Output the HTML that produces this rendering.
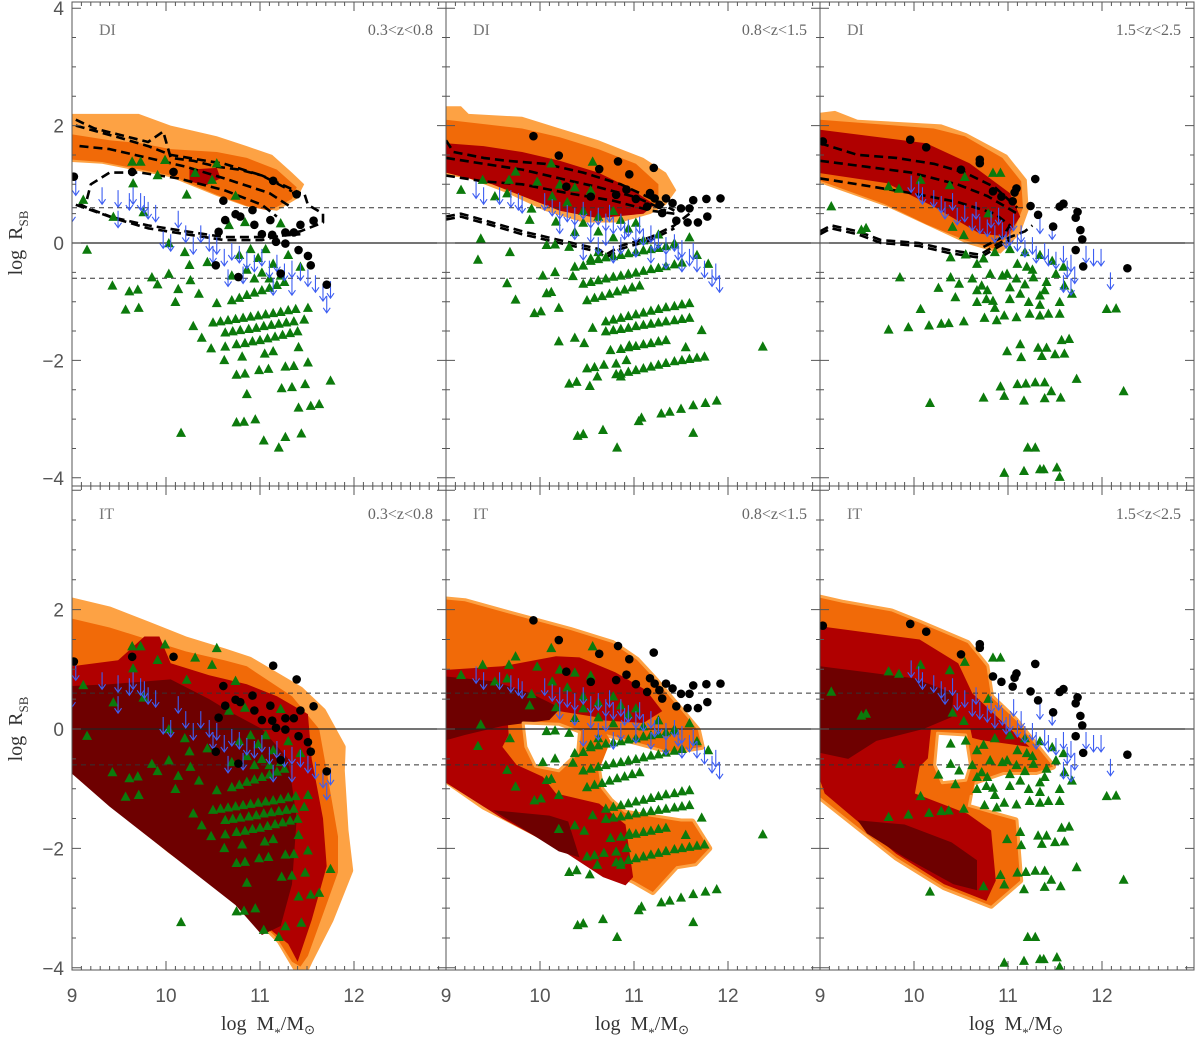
<!DOCTYPE html>
<html><head><meta charset="utf-8"><title>log R_SB vs stellar mass</title>
<style>
html,body{margin:0;padding:0;background:#fff;}
svg{display:block;font-family:"Liberation Serif",serif;}
</style></head>
<body>
<svg id="fig" width="1200" height="1040" viewBox="0 0 1200 1040" xmlns="http://www.w3.org/2000/svg">
<defs>
<clipPath id="c00"><rect x="72" y="2" width="374" height="484"/></clipPath>
<clipPath id="c01"><rect x="446" y="2" width="374" height="484"/></clipPath>
<clipPath id="c02"><rect x="820" y="2" width="374" height="484"/></clipPath>
<clipPath id="c10"><rect x="72" y="486" width="374" height="484"/></clipPath>
<clipPath id="c11"><rect x="446" y="486" width="374" height="484"/></clipPath>
<clipPath id="c12"><rect x="820" y="486" width="374" height="484"/></clipPath>
</defs>
</svg>
<script>
// ---------- shared scatter data per redshift column: [logM, logR] ----------
const triangles0 = [[9.64,1.39],[9.73,1.39],[9.99,1.42],[10.54,1.36],[10.31,1.20],[10.49,1.08],[9.91,1.16],[9.65,1.02],[10.22,0.83],[10.74,0.81],[9.12,0.74],[9.76,0.53],[9.44,0.45],[10.84,0.36],[11.22,0.34],[10.67,0.31],[9.16,-0.11],[10.03,0.0],[10.20,-0.15],[10.44,-0.32],[10.25,-0.37],[10.03,-0.52],[9.85,-0.58],[9.91,-0.70],[10.26,-0.63],[9.43,-0.72],[9.61,-0.82],[9.70,-0.79],[10.13,-0.78],[10.35,-0.86],[10.10,-1.0],[10.54,-1.02],[9.57,-1.13],[9.71,-1.10],[10.29,-1.41],[10.38,-1.61],[10.48,-1.79],[10.63,-1.76],[10.62,-1.99],[10.81,-1.93],[11.05,-1.88],[11.14,-1.84],[11.41,-1.77],[11.51,-2.03],[10.75,-2.24],[10.84,-2.22],[10.99,-2.16],[11.09,-2.14],[11.27,-2.10],[11.36,-2.09],[11.75,-2.34],[10.86,-2.57],[11.23,-2.47],[11.34,-2.45],[11.48,-2.40],[11.41,-2.80],[11.54,-2.77],[11.63,-2.74],[10.75,-3.05],[10.83,-3.04],[10.95,-3.0],[10.16,-3.23],[11.04,-3.36],[11.27,-3.30],[11.44,-3.24],[11.20,-3.48],
[10.50,-1.35],[10.58,-1.33],[10.66,-1.31],[10.74,-1.29],[10.82,-1.27],[10.90,-1.25],[10.98,-1.23],[11.06,-1.21],[11.14,-1.19],[11.22,-1.17],[11.30,-1.14],[11.38,-1.12],[11.51,-1.10],
[10.63,-1.52],[10.71,-1.50],[10.79,-1.48],[10.88,-1.46],[10.96,-1.44],[11.04,-1.41],[11.12,-1.39],[11.20,-1.37],[11.28,-1.35],[11.36,-1.33],[11.47,-1.30],
[10.75,-1.72],[10.84,-1.70],[10.92,-1.67],[11.00,-1.65],[11.08,-1.62],[11.16,-1.59],[11.24,-1.56],[11.32,-1.53],[11.40,-1.50],
[10.70,-0.97],[10.78,-0.93],[10.86,-0.88],[10.94,-0.84],[11.02,-0.80],[11.10,-0.76],[11.18,-0.71],[11.26,-0.66],
[10.78,-0.2],[10.90,-0.1],[10.98,-0.25],[11.06,-0.1],[10.86,-0.45],[11.02,-0.5],[11.14,-0.35],[11.22,-0.55],[11.30,-0.2],[11.43,-0.4],[10.70,-0.55],[10.94,-0.6],[11.10,-0.6]];
const circles0 = [[9.02,1.13],[9.64,1.21],[10.08,1.21],[11.14,1.06],[11.39,0.83],[10.61,0.72],[10.92,0.56],[10.74,0.49],[10.79,0.45],[11.11,0.39],[10.63,0.39],[10.94,0.31],[11.43,0.31],[11.57,0.38],[10.56,0.19],[11.02,0.15],[11.13,0.14],[11.27,0.18],[11.36,0.18],[11.17,0.02],[11.27,-0.01],[11.41,-0.12],[11.51,-0.22],[11.54,-0.38],[10.53,-0.38],[11.22,-0.52],[10.77,-0.58],[11.71,-0.71]];
const arrows0 = [[9.04,1.1],[9.32,0.95],[9.49,0.9],[9.61,0.85],[9.65,0.95],[9.73,0.85],[9.77,0.8],[9.81,0.7],[9.89,0.65],[9.49,0.55],[10.13,0.55],[10.21,0.3],[10.05,0.15],[10.29,0.1],[10.37,0.3],[10.46,0.15],[10.50,-0.05],[10.54,0.1],[10.62,-0.1],[10.70,0.0],[10.78,-0.05],[10.86,-0.15],[10.94,-0.2],[11.02,-0.1],[11.10,-0.3],[11.18,-0.2],[11.26,-0.35],[11.34,-0.3],[11.43,-0.35],[11.51,-0.45],[11.59,-0.55],[11.67,-0.7],[11.75,-0.65],[11.71,-0.9],[11.14,-0.6],[11.34,-0.6],[9.0,0.65],[9.97,0.2],[10.66,-0.45],[10.82,-0.4]];

const triangles1 = [[9.16,0.91],[9.39,1.08],[9.52,0.80],[9.65,0.85],[9.67,1.08],[9.74,1.22],[9.91,0.59],[9.89,0.40],[9.37,0.08],[9.34,-0.28],[9.68,-0.15],[10.12,1.36],[10.56,1.39],[10.17,0.37],[10.37,0.19],[10.07,-0.03],[10.16,-0.02],[10.31,-0.06],[10.54,-0.26],[10.62,-0.15],[10.37,-0.40],[10.46,-0.38],[10.03,-0.55],[10.16,-0.49],[10.35,-0.56],[9.65,-0.68],[9.74,-0.96],[10.07,-0.85],[10.12,-0.83],[10.20,-1.1],[9.94,-1.19],[10.01,-1.16],[10.56,-1.44],[10.20,-1.67],[10.37,-1.61],[10.47,-1.70],[10.75,-1.82],[10.95,-1.74],[11.55,-1.77],[11.72,-1.48],[12.37,-1.76],[10.50,-2.13],[10.58,-2.11],[10.68,-2.07],[10.81,-2.05],[10.92,-1.99],[10.31,-2.39],[10.39,-2.36],[10.53,-2.43],[10.61,-2.27],[10.81,-2.23],[10.86,-2.27],[11.05,-3.03],[11.08,-2.97],[11.29,-2.9],[11.38,-2.87],[11.50,-2.82],[11.63,-2.76],[11.76,-2.72],[11.88,-2.68],[10.40,-3.28],[10.46,-3.25],[10.67,-3.18],[11.63,-3.23],[10.82,-3.48],
[10.54,-0.30],[10.62,-0.27],[10.70,-0.24],[10.78,-0.22],[10.86,-0.2],[10.94,-0.17],[11.02,-0.15],[11.10,-0.12],[11.18,-0.1],[11.26,-0.08],[11.34,-0.05],[11.43,-0.02],
[10.46,-0.69],[10.54,-0.66],[10.62,-0.63],[10.70,-0.6],[10.78,-0.57],[10.86,-0.55],[10.94,-0.52],[11.02,-0.5],[11.10,-0.47],[11.18,-0.44],[11.26,-0.42],[11.34,-0.39],[11.43,-0.36],[11.51,-0.33],
[10.50,-0.97],[10.58,-0.93],[10.66,-0.9],[10.74,-0.86],[10.82,-0.82],[10.90,-0.79],[10.98,-0.75],[11.06,-0.72],
[10.70,-1.33],[10.78,-1.30],[10.86,-1.27],[10.94,-1.24],[11.02,-1.21],[11.10,-1.18],[11.18,-1.15],[11.26,-1.12],[11.34,-1.09],[11.43,-1.07],[11.51,-1.04],[11.59,-1.02],
[10.70,-1.5],[10.78,-1.48],[10.86,-1.46],[10.94,-1.44],[11.02,-1.41],[11.10,-1.39],[11.18,-1.37],[11.26,-1.35],[11.34,-1.33],[11.43,-1.31],[11.51,-1.29],[11.59,-1.27],
[10.86,-1.8],[10.94,-1.77],[11.02,-1.75],[11.10,-1.72],[11.18,-1.70],[11.26,-1.67],[11.34,-1.65],
[10.86,-2.22],[10.94,-2.19],[11.02,-2.16],[11.10,-2.13],[11.18,-2.1],[11.26,-2.07],[11.34,-2.04],[11.43,-2.01],[11.51,-1.99],[11.59,-1.97],[11.67,-1.95],[11.75,-1.93],
[10.62,0.2],[10.78,0.1],[10.94,0.25],[11.10,0.05],[11.26,0.15],[11.43,0.0],[11.59,0.1],[10.46,0.35],[11.02,0.35],[11.67,-0.2],[11.79,-0.35],
[10.13,0.8],[10.29,0.7],[10.46,0.55],[10.54,0.9],[10.62,0.45],[10.78,0.55],[10.86,0.4],[10.37,0.95],[10.21,1.0],[9.97,1.05]];
const circles1 = [[9.93,1.82],[10.20,1.49],[10.83,1.39],[11.21,1.28],[10.63,1.26],[10.95,1.17],[10.92,0.91],[11.02,0.75],[11.17,0.85],[11.22,0.76],[11.14,0.62],[11.27,0.65],[11.34,0.76],[11.41,0.68],[11.50,0.59],[11.63,0.73],[11.77,0.75],[11.92,0.76],[11.59,0.59],[11.78,0.45],[11.68,0.35],[11.57,0.35],[11.45,0.38],[10.54,0.79],[10.28,0.96],[10.81,0.82],[11.30,0.51]];
const arrows1 = [[9.32,1.05],[9.40,0.95],[9.57,0.95],[9.69,0.9],[9.77,0.85],[9.81,0.8],[10.05,0.85],[10.13,0.75],[10.21,0.7],[10.29,0.65],[10.37,0.6],[10.46,0.7],[10.54,0.55],[10.62,0.6],[10.70,0.5],[10.74,0.65],[10.78,0.45],[10.86,0.5],[10.90,0.35],[10.94,0.4],[11.02,0.3],[11.06,0.45],[11.10,0.25],[11.18,0.3],[11.22,0.15],[11.26,0.2],[11.34,0.1],[11.43,0.15],[11.47,0.0],[11.51,0.05],[11.59,-0.1],[11.63,0.0],[11.67,-0.2],[11.75,-0.3],[11.83,-0.45],[11.91,-0.55],[11.87,-0.35],[10.21,0.45],[10.37,0.35],[10.54,0.3],[10.70,0.25],[10.86,0.1],[11.02,0.05],[11.18,-0.05],[11.34,-0.15],[11.51,-0.2],[10.62,0.1],[10.46,0.0],[10.78,-0.05]];

const triangles2 = [[9.12,0.63],[9.44,0.23],[9.49,0.26],[9.73,0.97],[9.84,0.93],[10.07,1.08],[10.38,0.99],[10.54,1.13],[10.84,1.20],[10.92,1.20],[10.41,0.28],[10.53,0.14],[10.79,0.51],[9.85,-0.58],[10.26,-0.76],[10.39,-0.58],[10.48,-0.69],[10.07,-1.12],[9.73,-1.47],[9.94,-1.43],[10.16,-1.40],[10.29,-1.37],[10.37,-1.36],[10.53,-1.33],[10.39,-0.24],[10.55,-0.19],[10.67,-0.35],[10.74,-0.26],[10.81,-0.52],[10.72,-0.72],[10.67,-1.0],[10.75,-1.27],[10.88,-1.31],[10.96,-1.23],[11.09,-1.26],[11.23,-1.2],[11.34,-1.23],[11.43,-1.2],[11.55,-1.2],[10.99,-0.52],[11.09,-0.60],[11.20,-0.40],[11.27,-0.58],[11.41,-0.66],[11.51,-0.52],[11.60,-0.72],[11.68,-0.86],[11.55,-1.0],[11.13,-0.86],[11.34,-0.89],[10.84,-0.98],[10.77,-0.95],[10.44,-0.92],[10.67,-0.80],[10.99,-1.84],[11.13,-1.72],[11.14,-1.94],[11.32,-1.78],[11.36,-1.92],[11.41,-1.78],[11.50,-1.89],[11.57,-1.65],[11.65,-1.63],[11.60,-1.88],[12.05,-1.12],[12.15,-1.11],[11.73,-2.31],[12.23,-2.52],[10.92,-2.44],[10.96,-2.60],[10.74,-2.63],[11.10,-2.40],[11.19,-2.39],[11.29,-2.37],[11.39,-2.37],[11.17,-2.68],[11.39,-2.64],[11.46,-2.52],[11.56,-2.63],[10.17,-2.72],[11.21,-3.48],[11.29,-3.48],[10.96,-3.91],[11.17,-3.88],[11.34,-3.85],[11.38,-3.85],[11.52,-3.82],[11.55,-3.98],
[11.02,-0.1],[11.18,-0.15],[11.34,-0.2],[11.47,-0.3],[11.10,-0.35],[10.86,-0.15],[11.26,-0.45],[11.59,-0.4],[10.94,-0.55],[10.62,-0.6],[10.78,-0.8],[11.02,-0.75],[11.18,-0.7],[11.39,-0.8],[10.86,-1.1],[11.02,-0.95],[11.22,-1.0],[11.34,-1.05]];
const circles2 = [[9.03,1.73],[9.96,1.76],[10.13,1.63],[10.70,1.42],[10.70,1.36],[10.50,1.25],[11.29,1.09],[11.09,0.93],[11.07,0.86],[10.84,0.88],[10.93,0.79],[11.05,0.71],[11.24,0.63],[11.55,0.62],[11.59,0.67],[11.74,0.53],[11.72,0.43],[11.32,0.48],[11.77,0.22],[11.79,0.06],[11.72,-0.12],[11.80,-0.40],[12.27,-0.43],[11.48,0.28]];
const arrows2 = [[9.97,1.15],[10.05,1.05],[10.09,0.95],[10.21,0.9],[10.29,0.8],[10.33,0.7],[10.41,0.85],[10.46,0.6],[10.54,0.65],[10.62,0.5],[10.66,0.7],[10.70,0.45],[10.78,0.4],[10.82,0.55],[10.86,0.3],[10.94,0.35],[10.98,0.2],[11.02,0.25],[11.10,0.15],[11.14,0.3],[11.18,0.05],[11.26,0.1],[11.30,-0.05],[11.39,0.0],[11.43,-0.1],[11.51,-0.15],[11.59,-0.05],[11.63,-0.3],[11.67,-0.2],[11.71,-0.4],[11.83,-0.05],[11.91,-0.1],[11.99,-0.1],[11.59,-0.55],[11.67,-0.6],[12.09,-0.5],[11.34,0.45],[11.47,0.35],[11.06,0.5],[10.90,0.6]];

// ---------- model density contours: [logM, logR] polygons ----------
const di0Light = [[9,2.2],[9.36,2.2],[9.71,2.2],[10.05,2.0],[10.54,1.82],[10.86,1.65],[11.13,1.5],[11.34,1.2],[11.47,1.0],[11.39,0.75],[11.18,0.55],[10.86,0.62],[10.54,0.8],[10.05,1.12],[9.73,1.22],[9.32,1.35],[9,1.38]];
const di0Orange = [[9,1.85],[9.40,1.75],[9.73,1.7],[10.05,1.6],[10.54,1.55],[10.86,1.45],[11.18,1.25],[11.39,0.95],[11.34,0.75],[11.10,0.55],[10.86,0.63],[10.54,0.82],[10.05,1.15],[9.73,1.25],[9.32,1.38],[9,1.42]];
const di0Red = [[10.25,1.25],[10.54,1.28],[10.58,1.1],[10.42,0.98],[10.25,1.05]];
const di0Lines = [
 [[9.04,2.1],[9.24,1.95],[9.49,1.85],[9.81,1.72],[9.97,1.9],[10.05,1.45],[10.29,1.4],[10.54,1.3],[10.78,1.25],[11.02,1.15],[11.39,0.88]],
 [[9.04,2.0],[9.49,1.8],[9.81,1.65],[10.05,1.5],[10.62,1.35],[11.02,1.15],[11.34,0.88]],
 [[9.08,1.65],[9.40,1.6],[9.81,1.45],[10.21,1.3],[10.62,1.1],[11.10,0.85],[11.34,0.6]],
 [[11.34,0.85],[11.47,0.85],[11.51,0.65],[11.67,0.5],[11.67,0.35],[11.43,0.2],[11.02,0.05],[10.62,0.05],[10.21,0.15],[9.81,0.25],[9.49,0.4],[9.16,0.6],[9.04,0.7]],
 [[9.16,0.75],[9.20,1.0],[9.40,1.2],[9.73,1.2],[10.13,1.1],[10.62,0.9],[11.02,0.65],[11.18,0.45]],
 [[9.04,0.65],[9.40,0.45],[9.81,0.3],[10.21,0.2],[10.62,0.1],[11.02,0.1],[11.43,0.15]]];
const di1Light = [[9,2.33],[9.16,2.33],[9.24,2.2],[9.81,2.15],[10.21,1.95],[10.62,1.75],[10.86,1.6],[11.10,1.45],[11.34,1.2],[11.45,0.9],[11.34,0.65],[11.18,0.5],[10.86,0.35],[10.46,0.35],[10.05,0.55],[9.65,0.85],[9.24,1.1],[9,1.15]];
const di1Orange = [[9,2.1],[9.81,1.95],[10.21,1.8],[10.62,1.6],[11.02,1.35],[11.26,1.0],[11.26,0.7],[11.10,0.55],[10.78,0.45],[10.37,0.5],[9.97,0.7],[9.49,1.0],[9,1.2]];
const di1Red = [[9,1.7],[9.40,1.65],[9.81,1.55],[10.21,1.4],[10.62,1.2],[10.94,0.95],[11.22,0.65],[11.10,0.5],[10.62,0.42],[10.21,0.55],[9.97,0.7],[9.49,1.0],[9,1.2]];
const di1Lines = [
 [[9,1.75],[9.08,1.55],[9.40,1.45],[9.65,1.4],[10.05,1.35],[10.46,1.2],[10.86,1.0],[11.26,0.7],[11.43,0.55]],
 [[9,1.45],[9.40,1.35],[9.81,1.25],[10.21,1.1],[10.62,0.95],[11.02,0.78],[11.34,0.55]],
 [[9,1.15],[9.40,1.05],[9.81,1.0],[10.29,0.85],[10.78,0.72],[11.18,0.55],[11.43,0.5]],
 [[9,0.45],[9.16,0.5],[9.49,0.35],[9.81,0.2],[10.21,0.05],[10.62,-0.1],[10.70,-0.2],[10.86,-0.05],[11.18,0.1],[11.43,0.3],[11.59,0.5]],
 [[9,0.4],[9.16,0.45],[9.49,0.3],[9.81,0.15],[10.21,0.0],[10.62,-0.15],[10.70,-0.25],[10.86,-0.1],[11.18,0.05],[11.43,0.25]]];
const di2Light = [[9,2.22],[9.16,2.25],[9.40,2.1],[10.29,2.02],[10.56,1.87],[10.99,1.5],[11.20,1.08],[11.22,0.56],[11.13,0.16],[10.92,-0.18],[10.56,-0.01],[10.17,0.28],[9.71,0.62],[9,1.02]];
const di2Orange = [[9,2.1],[10.21,1.95],[10.54,1.82],[10.94,1.45],[11.14,1.05],[11.16,0.6],[11.06,0.2],[10.86,-0.1],[10.54,0.05],[10.13,0.32],[9.69,0.66],[9,1.06]];
const di2Red = [[9,1.93],[10.13,1.7],[10.59,1.36],[11.02,0.85],[11.13,0.45],[10.99,0.11],[10.70,0.16],[10.21,0.62],[9.71,1.02],[9,1.19]];
const di2Lines = [
 [[9,1.7],[9.40,1.5],[9.81,1.45],[10.21,1.35],[10.54,1.2],[10.86,0.95],[11.10,0.6]],
 [[9,1.4],[9.49,1.3],[9.97,1.2],[10.46,1.0],[10.78,0.8],[11.10,0.5]],
 [[9,1.1],[9.40,1.0],[9.97,0.85],[10.46,0.7],[10.86,0.5],[11.02,0.3],[10.94,0.1],[10.70,-0.1]],
 [[9,0.2],[9.12,0.3],[9.40,0.2],[9.65,0.05],[10.05,0.0],[10.37,-0.12],[10.70,-0.2],[10.86,-0.05],[11.02,0.1],[11.18,0.2],[11.26,0.3]],
 [[9,0.15],[9.12,0.25],[9.40,0.15],[9.65,0.0],[10.05,-0.05],[10.37,-0.17],[10.70,-0.25],[10.86,-0.1],[11.02,0.05]]];

const it0Light = [[9,2.15],[9.40,2.0],[9.81,1.75],[10.21,1.5],[10.62,1.3],[10.89,1.16],[11.43,0.66],[11.67,0.3],[11.88,-0.3],[11.87,-0.7],[11.91,-1.7],[11.96,-2.37],[11.75,-3.2],[11.53,-3.88],[11.47,-4.08],[11.38,-4.0],[11.21,-3.55],[10.78,-2.87],[10.04,-2.03],[9.40,-1.2],[9,-0.55]];
const it0Orange = [[9,1.85],[9.40,1.7],[9.81,1.5],[10.21,1.3],[10.62,1.15],[10.86,1.05],[11.34,0.55],[11.63,0.0],[11.71,-0.7],[11.83,-1.8],[11.83,-2.4],[11.67,-3.1],[11.51,-3.8],[11.43,-3.98],[11.34,-3.9],[11.18,-3.5],[10.74,-2.85],[10.01,-2.0],[9.40,-1.2],[9,-0.6]];
const it0Red = [[9,1.05],[9.49,1.15],[9.77,1.55],[9.93,1.55],[10.05,1.1],[10.46,0.9],[10.86,0.75],[11.18,0.55],[11.51,0.25],[11.55,-0.5],[11.67,-1.5],[11.71,-2.3],[11.55,-3.2],[11.40,-3.9],[11.30,-3.6],[11.14,-3.4],[10.74,-2.85],[10.01,-2.0],[9.40,-1.2],[9,-0.65]];
const it0Dark = [[9,0.72],[9.40,0.75],[10.05,0.83],[10.46,0.5],[10.70,0.27],[11.02,0.0],[11.30,-0.5],[11.39,-1.5],[11.34,-2.6],[11.22,-3.3],[11.02,-3.45],[10.74,-2.95],[10.05,-2.1],[9.40,-1.3],[9,-0.75]];
const it0Holes = [];
const it1Light = [[9,2.17],[9.20,2.14],[9.66,1.94],[10.32,1.66],[10.77,1.44],[11.03,1.16],[11.23,0.82],[11.51,0.3],[11.68,-0.02],[11.72,-0.3],[11.4,-0.38],[10.67,-0.07],[10.6,-0.5],[10.65,-1.0],[10.75,-1.2],[10.9,-1.4],[11.5,-1.55],[11.62,-1.55],[11.8,-2.0],[11.65,-2.25],[11.45,-2.3],[11.2,-2.73],[11.0,-2.55],[10.45,-2.15],[9.4,-1.3],[9,-0.86]];
const it1Red = [[9,0.99],[9.6,1.05],[10.17,1.22],[10.42,1.2],[10.8,0.95],[11.13,0.65],[11.3,0.3],[11.1,0.1],[10.6,0.15],[10.2,0.2],[9.75,0.15],[9.6,-0.3],[9.75,-0.6],[10.03,-0.8],[10.17,-1.08],[10.63,-1.25],[10.91,-1.6],[10.99,-2.48],[10.91,-2.62],[10.67,-2.48],[10.3,-2.1],[9.6,-1.5],[9,-0.9]];
const it1Ring = [[9.65,0.25],[10.2,0.3],[10.6,0.2],[10.75,-0.2],[10.65,-0.6],[10.3,-0.8],[10.0,-0.75],[9.68,-0.35]];
const it1Dark = [[9,0.88],[9.5,0.8],[9.9,0.6],[10.22,0.35],[10.1,0.15],[9.6,0.05],[9.2,-0.1],[9,-0.19]];
const it1Dark2 = [[9.5,-1.36],[10.1,-1.45],[10.3,-1.55],[10.42,-2.15],[10.2,-2.05],[9.85,-1.7]];
const it1Holes = [[[9.82,0.1],[10.2,0.08],[10.42,-0.05],[10.4,-0.4],[10.2,-0.7],[9.95,-0.62],[9.85,-0.3]]];
const it2Light = [[9,2.2],[9.25,2.11],[9.76,1.97],[10.06,1.78],[10.57,1.44],[10.77,1.05],[10.82,0.54],[11.08,0.15],[11.48,-0.63],[11.3,-0.72],[10.95,-0.72],[10.62,-0.9],[10.57,-1.3],[10.9,-1.45],[11.08,-1.53],[11.13,-2.54],[10.82,-2.96],[10.32,-2.65],[9.81,-2.15],[9,-1.14]];
const it2Red = [[9,1.72],[10.06,1.5],[10.47,1.1],[10.62,0.6],[10.92,0.15],[11.23,-0.3],[10.72,-0.19],[10.42,-0.07],[10.06,-0.63],[10.01,-1.08],[10.57,-1.42],[10.82,-1.7],[10.87,-2.54],[10.77,-2.88],[10.32,-2.6],[9.81,-2.09],[9.05,-1.08],[9,-0.86]];
const it2Ring = [[10.18,0.0],[10.6,0.0],[10.68,-0.6],[10.62,-1.1],[10.25,-1.12],[10.14,-0.6]];
const it2Dark = [[9,1.05],[9.5,0.95],[10.0,0.85],[10.42,0.6],[10.4,0.2],[10.1,0.0],[9.6,-0.2],[9.3,-0.5],[9,-0.4]];
const it2Dark2 = [[9.4,-1.53],[9.9,-1.6],[10.4,-1.9],[10.67,-2.2],[10.67,-2.7],[10.42,-2.6],[9.9,-2.15],[9.5,-1.75]];
const it2Holes = [[[10.25,-0.07],[10.55,-0.1],[10.6,-0.6],[10.55,-0.86],[10.3,-0.9],[10.22,-0.6]]];

const xTicks = [9,10,11,12];
const yTicks = [-4,-2,0,2,4];
const zLabels = ["0.3<z<0.8","0.8<z<1.5","1.5<z<2.5"];
const rowLabels = ["DI","IT"];
const refLevels = [0.6,-0.6];

// ---------- layout ----------
const NS = "http://www.w3.org/2000/svg";
const svg = document.getElementById('fig');
const colLeft = [72,446,820];
const PW = 374, PXU = 94;
const rowsG = [{y0:2,y1:486,zero:243,s:58.7},{y0:486,y1:970,zero:729,s:59.7}];
const C = {light:"#fda244",orange:"#f16a08",red:"#b00000",dark:"#6e0000",green:"#0c7a0c",blue:"#3d5ef2"};
const X = (c,m)=>colLeft[c]+(m-9)*PXU;
const Y = (r,v)=>rowsG[r].zero - v*rowsG[r].s;

function mk(tag,attrs,parent){const e=document.createElementNS(NS,tag);for(const k in attrs)e.setAttribute(k,attrs[k]);(parent||svg).appendChild(e);return e;}
function pts(c,r,arr){return arr.map(p=>X(c,p[0]).toFixed(1)+","+Y(r,p[1]).toFixed(1)).join(" ");}

function poly(g,c,r,arr,fill,name,stroke,sw){
  const e=mk('polygon',{points:pts(c,r,arr),fill:fill,stroke:stroke||'none','stroke-width':sw||0,'stroke-linejoin':'round'},g);
  
  
  return e;
}

const diSets=[[di0Light,di0Orange,di0Red,di0Lines],[di1Light,di1Orange,di1Red,di1Lines],[di2Light,di2Orange,di2Red,di2Lines]];
const itSets=[
  {light:it0Light,orange:it0Orange,red:it0Red,ring:null,dark:[it0Dark],holes:it0Holes},
  {light:it1Light,orange:null,red:it1Red,ring:it1Ring,dark:[it1Dark,it1Dark2],holes:it1Holes},
  {light:it2Light,orange:null,red:it2Red,ring:it2Ring,dark:[it2Dark,it2Dark2],holes:it2Holes}];
const scat=[[triangles0,circles0,arrows0],[triangles1,circles1,arrows1],[triangles2,circles2,arrows2]];

for(let r=0;r<2;r++){
 for(let c=0;c<3;c++){
  const L=colLeft[c], T=rowsG[r].y0, B=rowsG[r].y1, R=L+PW;
  const pg=mk('g',{});
  
  
  const g=mk('g',{'clip-path':'url(#c'+r+c+')'},pg);
  if(r===0){
    const s=diSets[c];
    poly(g,c,r,s[0],C.light,'contour-outer');
    poly(g,c,r,s[1],C.orange,'contour-middle');
    poly(g,c,r,s[2],C.red,'contour-inner');
  } else {
    const s=itSets[c];
    poly(g,c,r,s.light,C.light,'contour-outer',C.light,6);
    poly(g,c,r,s.orange||s.light,C.orange,'contour-middle');
    poly(g,c,r,s.red,C.red,'contour-inner');
    if(s.ring) poly(g,c,r,s.ring,C.orange,'contour-ring');
    s.dark.forEach(d=>poly(g,c,r,d,C.dark,'contour-core'));
    s.holes.forEach(h=>poly(g,c,r,h,'#ffffff','contour-hole',C.light,3));
  }
  const zl=mk('line',{x1:L,x2:R,y1:Y(r,0),y2:Y(r,0),stroke:'#222','stroke-width':1.2},g);
  
  
  refLevels.forEach(v=>{
    const dl=mk('line',{x1:L,x2:R,y1:Y(r,v),y2:Y(r,v),stroke:'#333','stroke-width':1,'stroke-dasharray':'5,4'},g);
    
    
  });
  if(r===0){
    diSets[c][3].forEach(ln=>{
      const pl=mk('polyline',{points:pts(c,r,ln),fill:'none',stroke:'#000','stroke-width':2.6,'stroke-dasharray':'9,5','stroke-linejoin':'round'},g);
      
      
    });
  }
  const [tri,cir,arr]=scat[c];
  tri.forEach(p=>{
    const x=X(c,p[0]), y=Y(r,p[1]);
    const t=mk('polygon',{points:`${x-5},${y+4.3} ${x+5},${y+4.3} ${x},${y-5}`,fill:C.green},g);
    
    
  });
  arr.forEach(p=>{
    const x=X(c,p[0]), y=Y(r,p[1]);
    const a=mk('path',{d:`M${x},${y} V${y+17} M${x-3.5},${y+12} L${x},${y+17} L${x+3.5},${y+12}`,stroke:C.blue,'stroke-width':1.1,fill:'none'},g);
    
    
  });
  cir.forEach(p=>{
    const d=mk('circle',{cx:X(c,p[0]),cy:Y(r,p[1]),r:4.3,fill:'#000'},g);
    
    
  });
  const fr=mk('rect',{x:L,y:T,width:PW,height:B-T,fill:'none',stroke:'#555','stroke-width':1},pg);
  
  
  let dt='';
  for(let i=0;i<=40;i++){
    const m=9+i*0.1, x=X(c,m); if(x>R+0.5) break;
    const len=(i%10===0)?9:4;
    dt+=`M${x},${B} V${B-len} M${x},${T} V${T+len} `;
  }
  for(let i=-8;i<=8;i++){
    const v=i*0.5, y=Y(r,v); if(y<T-0.5||y>B+0.5) continue;
    const len=(i%4===0)?9:4;
    dt+=`M${L},${y} H${L+len} M${R},${y} H${R-len} `;
  }
  const tk=mk('path',{d:dt,stroke:'#555','stroke-width':1,fill:'none'},pg);
  
  
  const t1=mk('text',{x:L+27,y:T+33,'font-size':16,fill:'#777'},pg); t1.textContent=rowLabels[r];
  
  
  const t2=mk('text',{x:R-13,y:T+33,'font-size':16,fill:'#666','text-anchor':'end'},pg); t2.textContent=zLabels[c];
  
  
  if(r===1){
    xTicks.forEach(m=>{
      const tl=mk('text',{x:X(c,m),y:1002,'font-size':19,fill:'#555','text-anchor':'middle','font-family':'Liberation Sans, sans-serif','font-weight':300},pg);
      tl.textContent=String(m);
      
      
    });
    const xt=mk('text',{x:X(c,11)+8,y:1030,'font-size':20,fill:'#333','text-anchor':'middle'},pg);
    xt.innerHTML='log&#160;&#160;M<tspan font-size="13" dy="7">*</tspan><tspan dy="-7">/M</tspan><tspan font-size="13" dy="4">&#8857;</tspan>';
    
    
  }
 }
 yTicks.forEach(v=>{
   const y=Y(r,v); if(y<rowsG[r].y0+8 && r===1) return;
   const tl=mk('text',{x:64,y:y+7,'font-size':19,fill:'#555','text-anchor':'end','font-family':'Liberation Sans, sans-serif'});
   tl.textContent=(v<0?'\u2212':'')+Math.abs(v);
   
   
 });
 const yt=mk('text',{x:0,y:0,'font-size':20,fill:'#333','text-anchor':'middle',transform:`translate(22,${rowsG[r].zero}) rotate(-90)`});
 yt.innerHTML='log&#160;&#160;R<tspan font-size="13" dy="6">SB</tspan>';
 
 
}
</script>
</body></html>
